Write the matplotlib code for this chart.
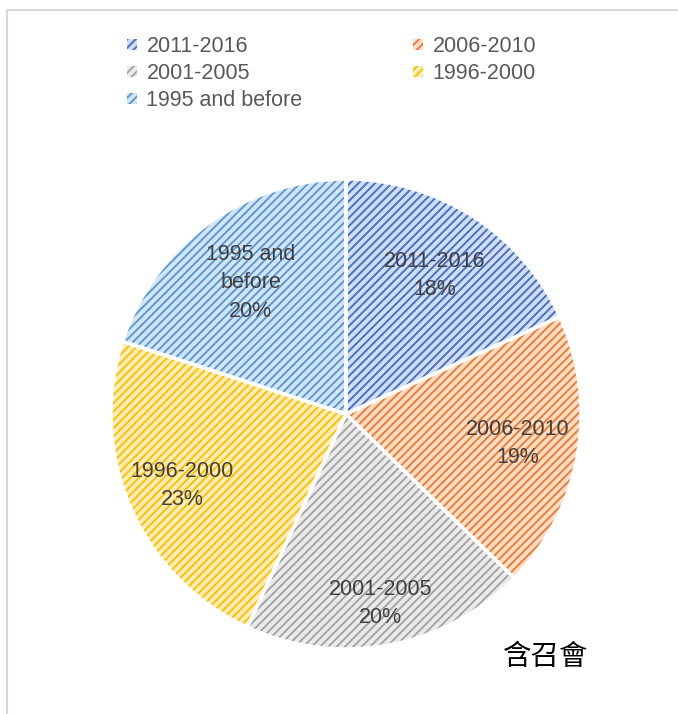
import matplotlib.pyplot as plt
from matplotlib.patches import Patch, Rectangle
import numpy as np

plt.rcParams['font.family'] = ['Liberation Sans', 'Noto Sans CJK TC', 'DejaVu Sans']
plt.rcParams['hatch.linewidth'] = 1.4

# data
periods = ['2011-2016', '2006-2010', '2001-2005', '1996-2000', '1995 and before']
label_text = ['2011-2016', '2006-2010', '2001-2005', '1996-2000', '1995 and\nbefore']
shares = [18.2, 19.1, 19.6, 23.1, 20.0]

dark = ['#4472C4', '#ED7D31', '#A5A5A5', '#FFC000', '#5B9BD5']
light = ['#D3DEF3', '#FBDDC8', '#EBEBEB', '#FFEEBC', '#D4E5F5']
label_dist = [0.70, 0.74, 0.82, 0.76, 0.69]

W, H = 678, 714
fig = plt.figure(figsize=(W / 100, H / 100), dpi=100)

# chart area border
fig.patches.append(Rectangle((7 / W, -0.1), 1.2, 1 - 10 / H + 0.1, transform=fig.transFigure,
                             fill=False, edgecolor='#D9D9D9', lw=1.5))

cx, cy, r = 346, 414, 235
ax = fig.add_axes([(cx - r) / W, (H - cy - r) / H, 2 * r / W, 2 * r / H])

# hatched fill
wedges, _ = ax.pie(shares, startangle=90, counterclock=False, radius=1,
                   colors=light)
for w, c in zip(wedges, dark):
    w.set_hatch('////')
    w.set_edgecolor(c)
    w.set_linewidth(0)
# white borders on top
ax.pie(shares, startangle=90, counterclock=False, radius=1,
       wedgeprops=dict(facecolor='none', edgecolor='white', linewidth=2.5))

total = sum(shares)
for w, txt, v, d in zip(wedges, label_text, shares, label_dist):
    ang = np.deg2rad((w.theta1 + w.theta2) / 2)
    ax.text(d * np.cos(ang), d * np.sin(ang), f'{txt}\n{v / total * 100:.0f}%',
            ha='center', va='center', fontsize=15.5, color='#404040', linespacing=1.45)

ax.set_xlim(-1, 1)
ax.set_ylim(-1, 1)
ax.set_aspect('equal')
ax.axis('off')

# legend, row-major order
order = [0, 2, 4, 1, 3]
handles = [Patch(facecolor=light[i], edgecolor=dark[i], hatch='////', lw=0, label=periods[i]) for i in order]
fig.legend(handles=handles, ncol=2, loc='upper left', bbox_to_anchor=(127 / W, 1 - 36 / H),
           frameon=False, fontsize=15.5, labelcolor='#595959', handlelength=0.45, handleheight=0.45,
           handletextpad=0.45, columnspacing=5.15, labelspacing=0.28, borderpad=0, borderaxespad=0)

fig.text(503 / W, 1 - 657 / H, '含召會', fontsize=20.5, color='black', va='center', ha='left',
         family=['Noto Sans CJK TC'])

fig.savefig('out.png', dpi=100)
